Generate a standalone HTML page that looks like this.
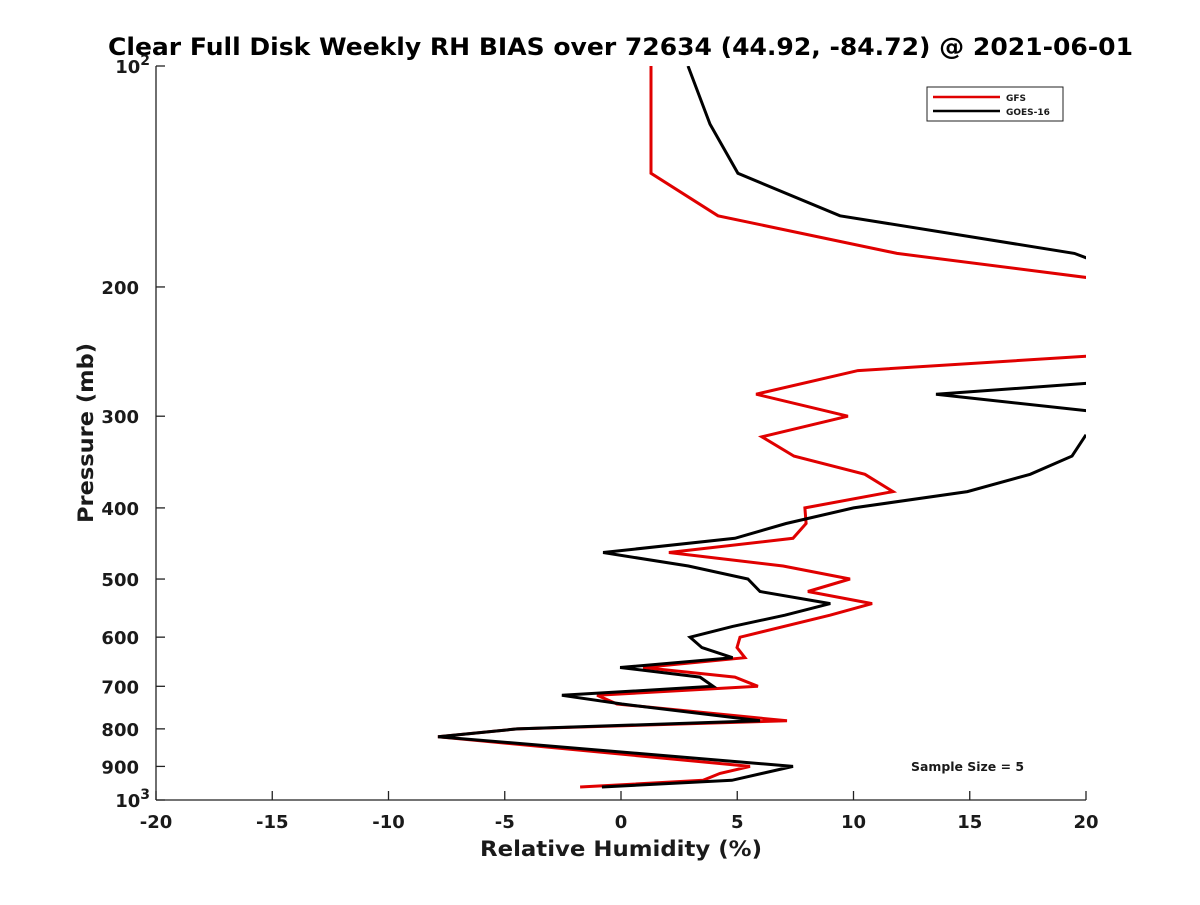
<!DOCTYPE html>
<html><head><meta charset="utf-8"><style>
body{margin:0;background:#fff}
svg text{font-family:"DejaVu Sans","Liberation Sans",sans-serif;font-weight:bold;fill:#1a1a1a}
</style></head><body>
<svg id="c" width="1200" height="900" xmlns="http://www.w3.org/2000/svg">
<defs><clipPath id="pa"><rect x="156" y="66" width="930" height="734"/></clipPath></defs>
<rect width="1200" height="900" fill="#fff"/>
<text x="108" y="55" font-size="24" textLength="1025" lengthAdjust="spacingAndGlyphs" fill="#000" style="fill:#000">Clear Full Disk Weekly RH BIAS over 72634 (44.92, -84.72) @ 2021-06-01</text>
<g id="axes"></g>
<g id="series" clip-path="url(#pa)"></g>
<g>
<rect x="927" y="87" width="136" height="34" fill="#fff" stroke="#222" stroke-width="1"/>
<line x1="933" y1="97" x2="1000" y2="97" stroke="#e00000" stroke-width="2.5"/>
<text x="1006" y="101" font-size="9">GFS</text>
<line x1="933" y1="111" x2="1000" y2="111" stroke="#000" stroke-width="2.5"/>
<text x="1006" y="115" font-size="9">GOES-16</text>
</g>
<text x="911" y="771" font-size="12" textLength="113" lengthAdjust="spacingAndGlyphs">Sample Size = 5</text>
<text x="480" y="856" font-size="21" textLength="282" lengthAdjust="spacingAndGlyphs">Relative Humidity (%)</text>
<text transform="translate(93,523) rotate(-90)" font-size="21" textLength="180" lengthAdjust="spacingAndGlyphs">Pressure (mb)</text>
</svg>
<script>
const xTicks=[-20,-15,-10,-5,0,5,10,15,20];
const yTicks=[100,200,300,400,500,600,700,800,900,1000];
const gfsP=[100,140,160,180,195,null,248,260,280,300,320,340,360,380,400,420,440,460,480,500,520,540,560,600,620,640,660,680,700,720,740,780,800,820,900,920,940,960];
const gfsV=[1.29,1.29,4.17,11.87,20.5,null,20.5,10.19,5.81,9.76,6.06,7.44,10.49,11.7,7.91,7.96,7.4,2.06,6.97,9.85,8.04,10.8,8.99,5.12,4.99,5.33,0.95,4.9,5.89,-1.03,-0.17,7.14,-4.47,-7.87,5.55,4.26,3.53,-1.76];
const goesP=[100,120,140,160,180,185,null,270,280,296,null,318,340,360,380,400,420,440,460,480,500,520,540,560,580,600,620,640,660,680,700,720,740,780,800,820,900,940,960];
const goesV=[2.88,3.83,5.03,9.42,19.5,20.5,null,20.5,13.55,20.5,null,20,19.4,17.6,14.9,10,7.1,4.9,-0.77,2.9,5.46,5.98,9,7.05,4.8,2.97,3.48,4.8,-0.04,3.4,3.96,-2.54,0.04,5.98,-4.47,-7.87,7.4,4.77,-0.82];
const X=v=>156+(v+20)*930/40;
const Y=p=>66+Math.log10(p/100)*734;
const NS="http://www.w3.org/2000/svg";
const ax=document.getElementById('axes');
function mk(t,a,parent){const e=document.createElementNS(NS,t);for(const k in a)e.setAttribute(k,a[k]);parent.appendChild(e);return e;}
const xl=mk('line',{x1:156,y1:800,x2:1086,y2:800,stroke:'#222','stroke-width':1.3},ax);


const yl=mk('line',{x1:156,y1:66,x2:156,y2:800,stroke:'#222','stroke-width':1.3},ax);


xTicks.forEach(v=>{
 const t=mk('line',{x1:X(v),y1:800,x2:X(v),y2:791,stroke:'#222','stroke-width':1.3},ax);
 
 
 const l=mk('text',{x:X(v),y:828,'text-anchor':'middle','font-size':18},ax);l.textContent=v;
 
 
});
yTicks.forEach(p=>{
 const t=mk('line',{x1:156,y1:Y(p),x2:165,y2:Y(p),stroke:'#222','stroke-width':1.3},ax);
 
 
 const l=mk('text',{x:139,y:Y(p)+7,'text-anchor':'end','font-size':18},ax);
 if(p===100||p===1000){l.textContent='10';const s=mk('tspan',{dy:-8,'font-size':14},l);s.textContent=p===100?'2':'3';l.setAttribute('x',150);}
 else l.textContent=p;
 
 
});
const sg=document.getElementById('series');
function draw(P,V,color,name){
 let d='',pen=false;
 for(let i=0;i<P.length;i++){
  if(P[i]===null){pen=false;continue;}
  d+=(pen?'L':'M')+X(V[i]).toFixed(1)+','+Y(P[i]).toFixed(1);pen=true;
 }
 const e=mk('path',{d:d,fill:'none',stroke:color,'stroke-width':3,'stroke-linejoin':'miter'},sg);
 
 
}
draw(gfsP,gfsV,'#e00000','gfs-line');
draw(goesP,goesV,'#000','goes16-line');
</script>
</body></html>
